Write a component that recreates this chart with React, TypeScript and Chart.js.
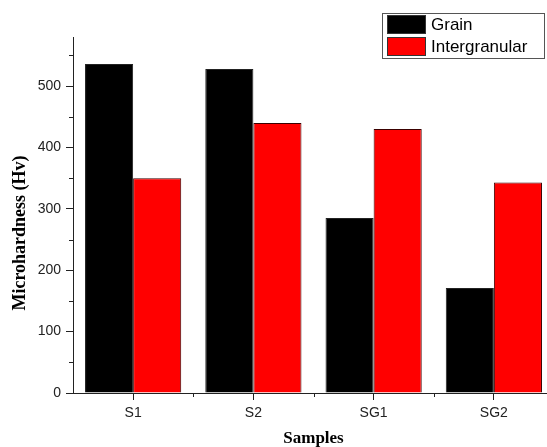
import React, { useEffect, useRef } from "react";
import { Chart, registerables } from "chart.js";

Chart.register(...registerables);

const categories = ["S1", "S2", "SG1", "SG2"];
const grainValues = [536, 528, 285, 171];
const intergranularValues = [350, 440, 430, 343];
const seriesNames = ["Grain", "Intergranular"];
const seriesColors = ["#000000", "#ff0000"];
const yMajorTicks = [0, 100, 200, 300, 400, 500];
const yMinorTicks = [50, 150, 250, 350, 450, 550];

const minorTicksPlugin = {
  id: "minorTicks",
  afterDraw(chart: any) {
    const ctx = chart.ctx;
    const x = chart.scales.x;
    const y = chart.scales.y;
    ctx.save();
    ctx.strokeStyle = "#222";
    ctx.lineWidth = 1;
    ctx.beginPath();
    yMinorTicks.forEach((v) => {
      const py = Math.round(y.getPixelForValue(v)) + 0.5;
      ctx.moveTo(chart.chartArea.left - 4, py);
      ctx.lineTo(chart.chartArea.left, py);
    });
    for (let i = 0; i < categories.length - 1; i++) {
      const px = Math.round((x.getPixelForValue(i) + x.getPixelForValue(i + 1)) / 2) + 0.5;
      ctx.moveTo(px, chart.chartArea.bottom);
      ctx.lineTo(px, chart.chartArea.bottom + 4);
    }
    ctx.stroke();
    ctx.restore();
  },
};

const boxLegendPlugin = {
  id: "boxLegend",
  afterDraw(chart: any) {
    const ctx = chart.ctx;
    const bx = 382.5, by = 13.5, bw = 162, bh = 45;
    ctx.save();
    ctx.fillStyle = "#fff";
    ctx.fillRect(bx, by, bw, bh);
    ctx.strokeStyle = "#555";
    ctx.lineWidth = 1;
    ctx.strokeRect(bx, by, bw, bh);
    ctx.font = "17px 'Liberation Sans', Arial, sans-serif";
    ctx.textBaseline = "middle";
    chart.data.datasets.forEach((ds: any, i: number) => {
      const sy = 15 + i * 22;
      ctx.fillStyle = ds.backgroundColor;
      ctx.fillRect(387, sy, 39, 19);
      ctx.strokeStyle = "#333";
      ctx.strokeRect(387.5, sy + 0.5, 38, 18);
      ctx.fillStyle = "#000";
      ctx.fillText(ds.label, 431, sy + 10);
    });
    ctx.restore();
  },
};

export default function App() {
  const ref = useRef<HTMLCanvasElement>(null);
  useEffect(() => {
    if (!ref.current) return;
    const chart = new Chart(ref.current, {
      type: "bar",
      data: {
        labels: categories,
        datasets: [
          { label: seriesNames[0], data: grainValues, backgroundColor: seriesColors[0], borderColor: "#222", borderWidth: 1 },
          { label: seriesNames[1], data: intergranularValues, backgroundColor: seriesColors[1], borderColor: "#3a0000", borderWidth: 1 },
        ],
      },
      options: {
        animation: false,
        responsive: false,
        devicePixelRatio: 1,
        layout: { padding: { top: 37, left: 0, right: 0, bottom: 0 } },
        plugins: { legend: { display: false }, tooltip: { enabled: false } },
        datasets: { bar: { categoryPercentage: 0.8, barPercentage: 1.0 } },
        scales: {
          x: {
            offset: true,
            grid: { display: true, drawOnChartArea: false, offset: false, tickLength: 7, color: "#222" },
            border: { display: true, color: "#222", width: 1 },
            ticks: { color: "#222", padding: 5, font: { family: "'Liberation Sans', Arial, sans-serif", size: 14 } },
            title: {
              display: true,
              text: "Samples",
              color: "#000",
              font: { family: "'Liberation Serif', 'Times New Roman', serif", size: 17, weight: "bold" },
              padding: { top: 0, bottom: -2 },
            },
            afterFit(scale: any) { scale.height = 54; },
          },
          y: {
            min: 0,
            max: 580,
            grid: { display: true, drawOnChartArea: false, tickLength: 7, color: "#222" },
            border: { display: true, color: "#222", width: 1 },
            ticks: {
              stepSize: 100,
              includeBounds: false,
              color: "#222",
              padding: 5,
              font: { family: "'Liberation Sans', Arial, sans-serif", size: 14 },
              callback: (v: any) => (yMajorTicks.includes(Number(v)) ? String(v) : ""),
            },
            title: {
              display: true,
              text: "Microhardness (Hv)\u2003\u2003",
              color: "#000",
              font: { family: "'Liberation Serif', 'Times New Roman', serif", size: 18, weight: "bold" },
              padding: { top: 10, bottom: 0 },
            },
            afterFit(scale: any) { scale.width = 73; },
          },
        },
      },
      plugins: [minorTicksPlugin, boxLegendPlugin],
    });
    return () => chart.destroy();
  }, []);
  return (
    <div style={{ position: "fixed", left: 0, top: 0, width: 547, height: 447, overflow: "hidden", background: "#fff" }}>
      <canvas ref={ref} width={554} height={447} style={{ display: "block" }} />
    </div>
  );
}
